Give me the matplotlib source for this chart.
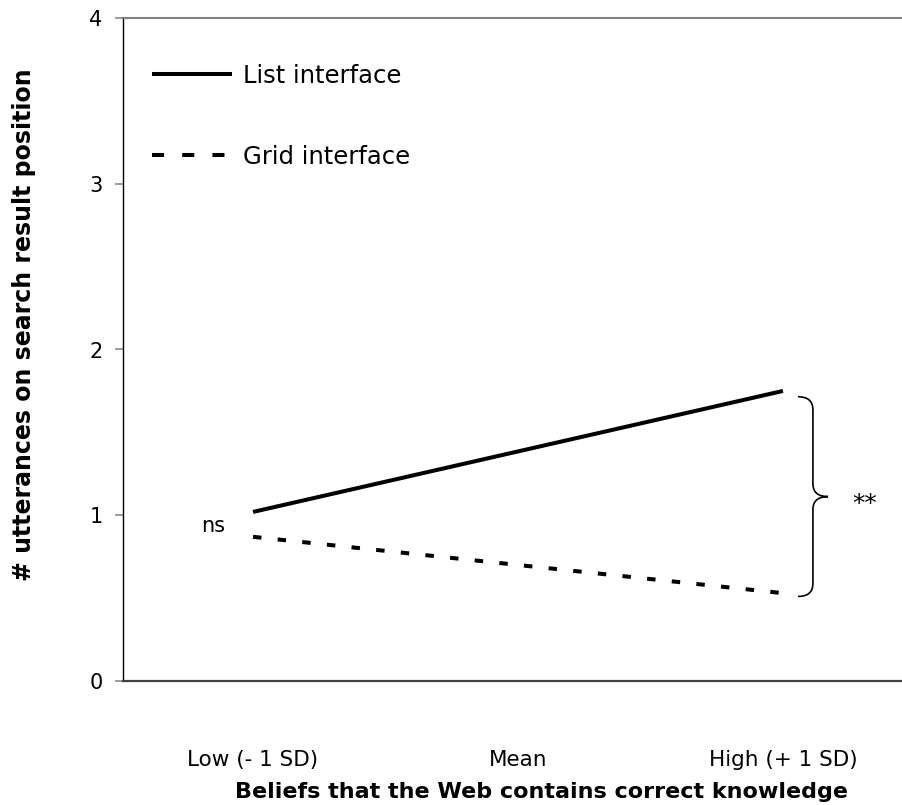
import matplotlib
matplotlib.use('Agg')
import matplotlib.pyplot as plt
from matplotlib.path import Path
from matplotlib.patches import PathPatch
from matplotlib.lines import Line2D

categories = ['Low (- 1 SD)', 'Mean', 'High (+ 1 SD)']
list_interface = [1.02, 1.385, 1.75]
grid_interface = [0.87, 0.70, 0.53]
y_ticks = [0, 1, 2, 3, 4]
series_labels = ['List interface', 'Grid interface']
x_label = 'Beliefs that the Web contains correct knowledge'
y_label = '# utterances on search result position'
ns_label = 'ns'
sig_label = '**'

plt.rcParams['font.family'] = ['DejaVu Sans']

W, H = 903, 805
fig = plt.figure(figsize=(W / 100, H / 100), dpi=100)
ax = fig.add_axes([123 / W, (H - 681) / H, (W - 123) / W, (681 - 18) / H])

FS = 15
x = list(range(len(categories)))
lw = 2.9
ax.plot(x, list_interface, color='black', lw=lw, solid_capstyle='butt')
ax.plot(x, grid_interface, color='black', lw=lw, dashes=(2.1, 4.05))

ax.set_xlim(-0.4906, 2.453)
ax.set_ylim(0, 4)
ax.set_yticks(y_ticks)
ax.set_yticklabels([str(v) for v in y_ticks])
ax.set_xticks(x)
ax.set_xticklabels(categories)

ax.spines['right'].set_visible(False)
ax.spines['left'].set_color('black')
ax.spines['left'].set_linewidth(1.0)
ax.spines['bottom'].set_color('#404040')
ax.spines['bottom'].set_linewidth(1.6)
ax.spines['top'].set_color('#808080')
ax.spines['top'].set_linewidth(1.5)

ax.tick_params(axis='y', direction='out', length=5.8, width=1.1, color='#808080',
               pad=9, labelsize=FS)
ax.tick_params(axis='x', length=0, pad=50, labelsize=15.5)

# brace spanning the gap at the high end
xb = x[-1]
ytop = list_interface[-1] - 0.035
ybot = grid_interface[-1] - 0.02
ymid = (ytop + ybot) / 2
dx1, dx2, dx3 = 0.057, 0.113, 0.17
r = 0.078
verts = [
    (xb + dx1, ytop),
    (xb + dx2, ytop), (xb + dx2, ytop - r),
    (xb + dx2, ymid + r),
    (xb + dx2, ymid), (xb + dx3, ymid),
    (xb + dx2, ymid), (xb + dx2, ymid - r),
    (xb + dx2, ybot + r),
    (xb + dx2, ybot), (xb + dx1, ybot),
]
codes = [Path.MOVETO,
         Path.CURVE3, Path.CURVE3,
         Path.LINETO,
         Path.CURVE3, Path.CURVE3,
         Path.CURVE3, Path.CURVE3,
         Path.LINETO,
         Path.CURVE3, Path.CURVE3]
ax.add_patch(PathPatch(Path(verts, codes), facecolor='none', edgecolor='black',
                       lw=1.2, clip_on=False))

ax.text(-0.15, 0.935, ns_label, ha='center', va='center', fontsize=FS)
ax.text(2.31, 1.065, sig_label, ha='center', va='center', fontsize=18)

h1 = Line2D([], [], color='black', lw=lw, solid_capstyle='butt')
h2 = Line2D([], [], color='black', lw=lw, dashes=(3.0, 4.5))
LFS = 17.5
ax.legend([h1, h2], series_labels, loc='upper left', bbox_to_anchor=(0.037, 0.931),
          frameon=False, handlelength=80 / (LFS * 100 / 72), handletextpad=11 / (LFS * 100 / 72),
          labelspacing=2.35, borderpad=0, borderaxespad=0, fontsize=LFS)

fig.text(542 / W, 1 - 792 / H, x_label, ha='center', va='center', fontsize=16,
         fontweight='bold')
fig.text(24 / W, 1 - 325 / H, y_label, ha='center', va='center', fontsize=17,
         fontweight='bold', rotation=90)

fig.savefig('out.png', dpi=100)
